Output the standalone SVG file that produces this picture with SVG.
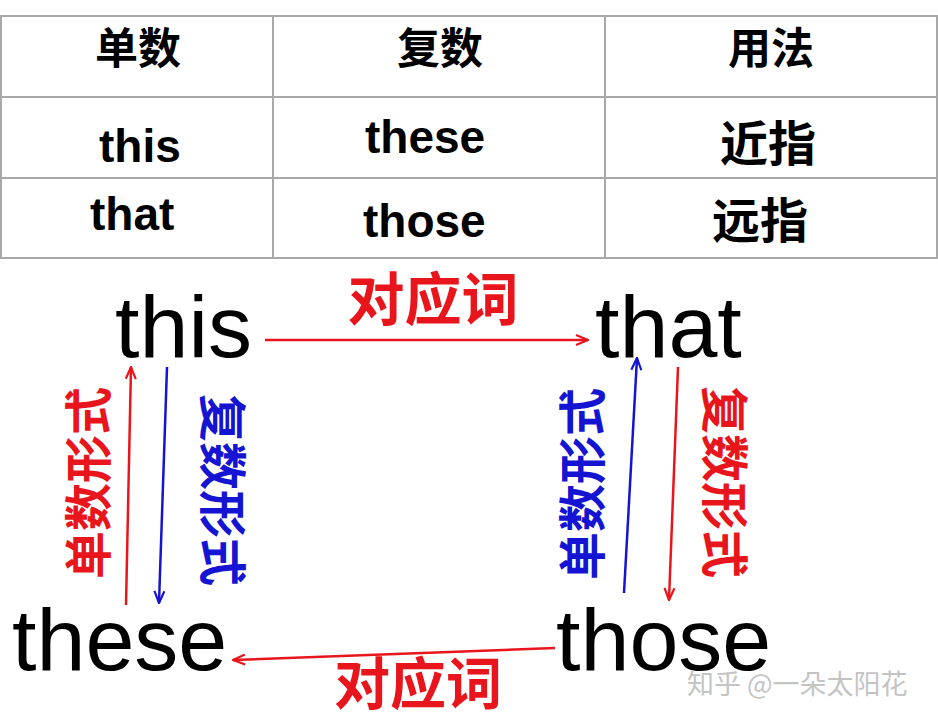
<svg xmlns="http://www.w3.org/2000/svg" width="938" height="721" viewBox="0 0 938 721">
<style>
.grid{stroke:#a8a8a8;stroke-width:2;fill:none}
.tb{font-family:"Liberation Sans","Noto Sans CJK SC",Arial,sans-serif;font-weight:bold;font-size:46px;fill:#000}
.tc{font-family:"Noto Sans CJK SC",sans-serif;font-weight:bold;fill:#000;text-anchor:middle}
.big{font-family:"Liberation Sans",Arial,sans-serif;font-size:88px;fill:#000}
.lab{font-family:"Noto Sans CJK SC",sans-serif;font-weight:bold;text-anchor:middle}
.red{fill:#e8161c}
.blue{fill:#1414d2}
.lr{stroke:#e8161c;stroke-width:2.5;fill:none}
.lb{stroke:#1414d2;stroke-width:2.5;fill:none}
</style>
<defs>
<marker id="ar" viewBox="0 0 14 12" refX="13" refY="6" markerWidth="14" markerHeight="12" markerUnits="userSpaceOnUse" orient="auto">
<path d="M1,1 L13,6 L1,11" fill="none" stroke="#e8161c" stroke-width="2.2"/>
</marker>
<marker id="ab" viewBox="0 0 14 12" refX="13" refY="6" markerWidth="14" markerHeight="12" markerUnits="userSpaceOnUse" orient="auto">
<path d="M1,1 L13,6 L1,11" fill="none" stroke="#1414d2" stroke-width="2.2"/>
</marker>
</defs>
<rect width="938" height="721" fill="#fff"/>
<g id="table">
<path class="grid" d="M0,16H938M0,97H938M0,178H938M0,258H938M1,16V258M273,16V258M605,16V258M937,16V258"/>
<text class="tc" x="138" y="64" font-size="43">单数</text>
<text class="tc" x="440" y="64" font-size="43">复数</text>
<text class="tc" x="771" y="64" font-size="43">用法</text>
<text class="tb" x="99" y="162">this</text>
<text class="tb" x="365" y="153">these</text>
<text class="tc" x="768" y="161" font-size="48">近指</text>
<text class="tb" x="90" y="230">that</text>
<text class="tb" x="363" y="237">those</text>
<text class="tc" x="760" y="238" font-size="48">远指</text>
</g>
<g id="node-this"><text class="big" x="115" y="357">this</text></g>
<g id="node-that"><text class="big" x="595" y="357">that</text></g>
<g id="node-these"><text class="big" x="12" y="670">these</text></g>
<g id="node-those"><text class="big" x="556" y="670">those</text></g>
<g id="connectors">
<line class="lr" x1="265" y1="340" x2="588" y2="340" marker-end="url(#ar)"/>
<line class="lr" x1="555" y1="648" x2="233" y2="660" marker-end="url(#ar)"/>
<line class="lr" x1="126" y1="605" x2="131" y2="367" marker-end="url(#ar)"/>
<line class="lb" x1="167" y1="367" x2="159" y2="603" marker-end="url(#ab)"/>
<line class="lb" x1="624" y1="593" x2="637" y2="358" marker-end="url(#ab)"/>
<line class="lr" x1="678" y1="367" x2="669" y2="600" marker-end="url(#ar)"/>
</g>
<g id="labels">
<text class="lab red" x="433" y="320" font-size="57">对应词</text>
<text class="lab red" x="418" y="704" font-size="56">对应词</text>
<text class="lab red" font-size="48" transform="translate(88,483) rotate(-90)" y="18">单数形式</text>
<text class="lab blue" font-size="48" transform="translate(223,490) rotate(90)" y="18">复数形式</text>
<text class="lab blue" font-size="48" transform="translate(582,484) rotate(-90)" y="18">单数形式</text>
<text class="lab red" font-size="48" transform="translate(725,482) rotate(90)" y="18">复数形式</text>
</g>
<g id="watermark"><text x="687" y="694" font-family="Noto Sans CJK SC,sans-serif" font-size="27" fill="#c4c4c4">知乎 @一朵太阳花</text></g>
</svg>
